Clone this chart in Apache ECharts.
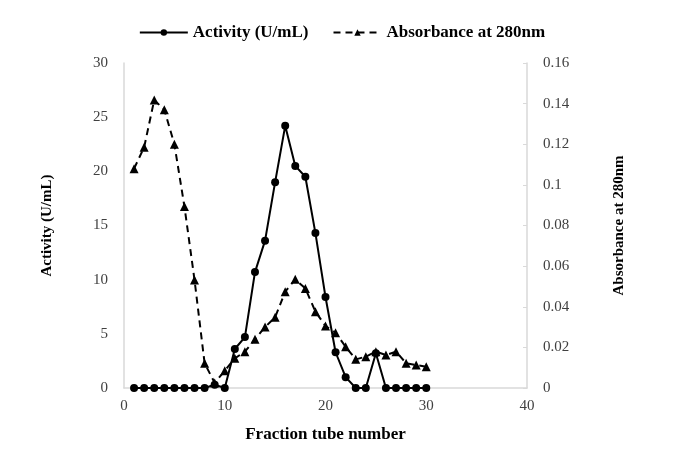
<!DOCTYPE html>
<html lang="en">
<head>
    <meta charset="UTF-8">
    <script src="https://cdn.jsdelivr.net/npm/echarts@6/dist/echarts.min.js"></script>
    <title>Fraction activity</title>
</head>
<body style="margin:0;background:#fff;">
<div id="main" style="width:684px;height:465px;"></div>
<script type="text/javascript">
    // fraction tubes and measured values
    var tubes = [1,2,3,4,5,6,7,8,9,10,11,12,13,14,15,16,17,18,19,20,21,22,23,24,25,26,27,28,29,30];
    var activity = [0,0,0,0,0,0,0,0,0.3,0,3.6,4.7,10.7,13.6,19.0,24.2,20.5,19.5,14.3,8.4,3.3,1.0,0,0,3.2,0,0,0,0,0];
    var absorbance = [0.108,0.1185,0.1418,0.137,0.120,0.0893,0.0532,0.0122,0.0025,0.0085,0.0146,0.0179,0.024,0.030,0.0348,0.0474,0.0535,0.049,0.0376,0.0305,0.0272,0.0203,0.0141,0.0154,0.0179,0.0162,0.0179,0.0122,0.0113,0.0105];

    var font = 'Liberation Serif';
    var pairs = function (ys) {
        var out = [];
        for (var i = 0; i < tubes.length; i++) {
            out.push([tubes[i], ys[i]]);
        }
        return out;
    };

    var myChart = echarts.init(document.getElementById('main'));
    var option = {
        animation: false,
        backgroundColor: '#fff',
        legend: {
            top: 19,
            left: 'center',
            itemGap: 24,
            itemWidth: 48,
            itemHeight: 8,
            textStyle: {fontFamily: font, fontWeight: 'bold', fontSize: 17, color: '#000'},
            data: ['Activity (U/mL)', 'Absorbance at 280nm']
        },
        grid: {left: 124, right: 157, top: 63, bottom: 77},
        xAxis: {
            type: 'value',
            min: 0, max: 40, interval: 10,
            name: 'Fraction tube number',
            nameLocation: 'middle',
            nameGap: 38,
            nameTextStyle: {fontFamily: font, fontWeight: 'bold', fontSize: 17, color: '#000'},
            axisLine: {lineStyle: {color: '#d9d9d9', width: 1.5}},
            axisTick: {show: false},
            splitLine: {show: false},
            axisLabel: {fontFamily: font, fontSize: 15, color: '#404040', margin: 11}
        },
        yAxis: [{
            type: 'value',
            min: 0, max: 30, interval: 5,
            name: 'Activity (U/mL)',
            nameLocation: 'middle',
            nameGap: 69,
            nameTextStyle: {fontFamily: font, fontWeight: 'bold', fontSize: 15, color: '#000'},
            axisLine: {show: true, lineStyle: {color: '#d9d9d9', width: 1.5}},
            axisTick: {show: false},
            splitLine: {show: false},
            axisLabel: {fontFamily: font, fontSize: 15, color: '#404040', margin: 16}
        }, {
            type: 'value',
            min: 0, max: 0.16, interval: 0.02,
            name: 'Absorbance at 280nm',
            nameLocation: 'middle',
            nameGap: 85,
            nameRotate: 90,
            nameTextStyle: {fontFamily: font, fontWeight: 'bold', fontSize: 15, color: '#000'},
            axisLine: {show: true, lineStyle: {color: '#d9d9d9', width: 1.5}},
            axisTick: {show: true, inside: true, length: 4, lineStyle: {color: '#d9d9d9'}},
            splitLine: {show: false},
            axisLabel: {fontFamily: font, fontSize: 15, color: '#404040', margin: 16}
        }],
        series: [{
            name: 'Activity (U/mL)',
            type: 'line',
            yAxisIndex: 0,
            symbol: 'circle',
            symbolSize: 8,
            itemStyle: {color: '#000'},
            lineStyle: {color: '#000', width: 2},
            data: pairs(activity)
        }, {
            name: 'Absorbance at 280nm',
            type: 'line',
            yAxisIndex: 1,
            symbol: 'triangle',
            symbolSize: 9,
            itemStyle: {color: '#000'},
            lineStyle: {color: '#000', width: 2, type: [7, 5]},
            data: pairs(absorbance)
        }]
    };
    myChart.setOption(option);
</script>
</body>
</html>
